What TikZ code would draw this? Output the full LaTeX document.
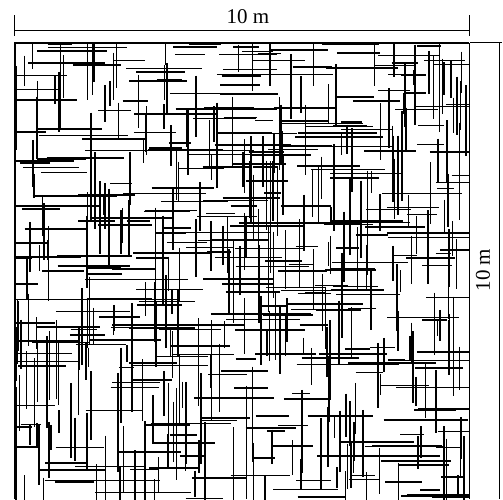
\documentclass[tikz,border=0pt]{standalone}
\usepackage{fontspec}
\setmainfont{Liberation Serif}
\begin{document}
\begin{tikzpicture}[x=1pt,y=-1pt,
  frac/.style={line width=1.5pt,black},
  dim/.style={line width=0.6pt,black},
  lbl/.style={font=\fontsize{21}{21}\selectfont,inner sep=0pt}]
\useasboundingbox (0,0) rectangle (503,499);
% top dimension
\coordinate (tl) at (14,30);
\coordinate (tr) at (469,30);
\draw[dim] (tl) -- (tr);
\draw[dim] (14,15) -- (14,36);
\draw[dim] (469,15) -- (469,36);
\node[lbl] (toplbl) at (248,17) {10 m};
% right dimension
\coordinate (rt) at (499,42);
\coordinate (rb) at (499,499);
\draw[dim] (rt) -- (rb);
\draw[dim] (470,42) -- (502,42);
\node[lbl,rotate=90] (rightlbl) at (483,270) {10 m};
% fractures
\begin{scope}
\clip (15,43) rectangle (469,499);
\pgfmathsetseed{11}
\foreach \i in {1,...,330}{
  \pgfmathsetmacro\cx{15+454*rnd}
  \pgfmathsetmacro\cy{43+462*rnd}
  \pgfmathsetmacro\L{14+55*rnd+90*rnd*rnd*rnd}
  \draw[frac] (\cx-\L/2,\cy) -- (\cx+\L/2,\cy);
}
\foreach \i in {1,...,330}{
  \pgfmathsetmacro\cx{15+454*rnd}
  \pgfmathsetmacro\cy{43+462*rnd}
  \pgfmathsetmacro\L{14+55*rnd+100*rnd*rnd*rnd}
  \draw[frac] (\cx,\cy-\L/2) -- (\cx,\cy+\L/2);
}
\end{scope}
\draw[line width=1.2pt] (15,499) -- (15,43) -- (469,43);
\draw[line width=0.8pt] (469,43) -- (469,499);
\end{tikzpicture}
\end{document}
